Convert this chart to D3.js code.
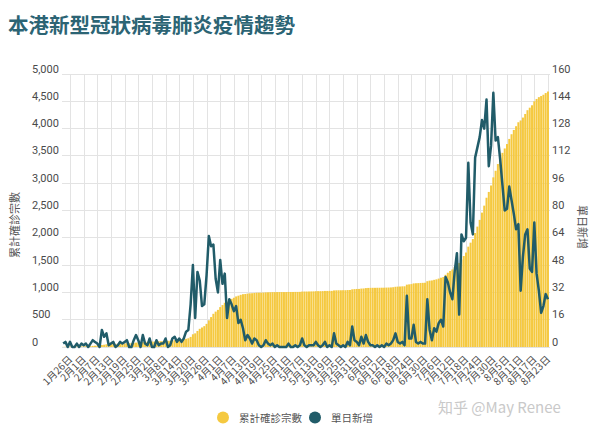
<!DOCTYPE html>
<html><head><meta charset="utf-8">
<script src="https://cdn.jsdelivr.net/npm/d3@7"></script>
<style>
html,body{margin:0;padding:0;background:#fff;}
text{font-family:Roboto,"Noto Sans CJK TC","Noto Sans",sans-serif;}
</style></head>
<body><svg id="chart" width="600" height="432"></svg>
<script>
// ---- data ----
const startDate = new Date(2020, 0, 23);
const endDate = new Date(2020, 7, 23);
const dailyNew = [2,3,0,3,0,0,2,0,2,1,2,0,2,4,3,2,0,10,6,8,1,2,3,0,1,3,2,3,4,0,0,4,7,4,0,7,2,1,5,0,0,4,1,2,2,5,0,1,5,6,3,5,3,5,9,10,25,48,17,44,39,24,25,42,65,59,60,40,32,51,37,43,17,28,25,21,24,14,16,11,4,7,5,2,5,4,1,0,1,4,2,1,2,0,1,0,0,0,0,2,0,0,1,0,1,5,1,0,1,1,1,3,1,0,1,3,0,1,0,8,2,1,0,1,0,3,1,12,4,3,1,6,2,7,3,1,1,0,1,0,1,0,2,1,2,4,8,3,2,3,1,30,5,5,13,3,2,3,2,2,28,10,4,11,9,14,16,12,41,38,32,28,44,55,19,66,62,64,108,73,66,111,117,123,133,128,145,106,118,149,121,123,110,95,80,81,94,86,78,69,72,33,53,66,69,46,44,73,43,33,20,24,31,28];
const cumulative = [2,5,5,8,8,8,10,10,12,13,15,15,17,21,24,26,26,36,42,50,51,53,56,56,57,60,62,65,69,69,69,73,80,84,84,91,93,94,99,99,99,103,104,106,108,113,113,114,119,125,128,133,136,141,150,160,185,233,250,294,333,357,382,424,489,548,608,648,680,731,768,811,828,856,881,902,926,940,956,967,971,978,983,985,990,994,995,995,996,1000,1002,1003,1005,1005,1006,1006,1006,1006,1006,1008,1008,1008,1009,1009,1010,1015,1016,1016,1017,1018,1019,1022,1023,1023,1024,1027,1027,1028,1028,1036,1038,1039,1039,1040,1040,1043,1044,1056,1060,1063,1064,1070,1072,1079,1082,1083,1084,1084,1085,1085,1086,1086,1088,1089,1091,1095,1103,1106,1108,1111,1112,1142,1147,1152,1165,1168,1170,1173,1175,1177,1205,1215,1219,1230,1239,1253,1269,1281,1322,1360,1392,1420,1464,1519,1538,1604,1666,1730,1838,1911,1977,2088,2205,2328,2461,2589,2734,2840,2958,3107,3228,3351,3461,3556,3636,3717,3811,3897,3975,4044,4116,4149,4202,4268,4337,4383,4427,4500,4543,4576,4596,4620,4651,4679];
const leftTicks = [0,500,1000,1500,2000,2500,3000,3500,4000,4500,5000];
const rightTicks = [0,16,32,48,64,80,96,112,128,144,160];
const tickLabels = ["1月26日","2月1日","2月7日","2月13日","2月19日","2月25日","3月2日","3月8日","3月14日","3月20日","3月26日","4月1日","4月7日","4月13日","4月19日","4月25日","5月1日","5月7日","5月13日","5月19日","5月25日","5月31日","6月6日","6月12日","6月18日","6月24日","6月30日","7月6日","7月12日","7月18日","7月24日","7月30日","8月5日","8月11日","8月17日","8月23日"];
const titleText = "本港新型冠狀病毒肺炎疫情趨勢";
const leftTitle = "累計確診宗數";
const rightTitle = "單日新增";
const legendItems = ["累計確診宗數","單日新增"];

// ---- build ----
const fmtDay = d => (d.getMonth()+1) + "月" + d.getDate() + "日";
const days = d3.timeDay.range(startDate, d3.timeDay.offset(endDate, 1)).map(fmtDay);
const rows = days.map((d,i) => ({day:d, cum:cumulative[i], daily:dailyNew[i]}));

const svg = d3.select("#chart");
const C_BAR = "#f5c940", C_LINE = "#215c69", C_GRID = "#e3e3e3", C_TXT = "#4a4a4a";
const plotTop = 74, plotBottom = 347;

const x = d3.scaleBand().domain(days).range([62.03, 549.1]).paddingInner(0.12).paddingOuter(0.06);
const yL = d3.scaleLinear().domain([0,5000]).range([plotBottom, plotTop]);
const yR = d3.scaleLinear().domain([0,160]).range([plotBottom, plotTop]);
const cx = d => x(d) + x.bandwidth()/2;

svg.append("rect").attr("width",600).attr("height",432).attr("fill","#fff");

// title
svg.append("text").attr("x",8).attr("y",33).attr("font-size",20.5).attr("font-weight",700)
  .attr("fill","#2c6474").style("font-family","'Noto Sans CJK TC',sans-serif").text(titleText);

// horizontal grid
svg.append("g").selectAll("line").data(leftTicks).join("line")
  .attr("x1",62).attr("x2",550).attr("y1",d=>yL(d)).attr("y2",d=>yL(d))
  .attr("stroke",C_GRID).attr("stroke-width",1).attr("shape-rendering","crispEdges");
// vertical grid
svg.append("g").selectAll("line").data(tickLabels).join("line")
  .attr("x1",d=>Math.round(cx(d))+0.5).attr("x2",d=>Math.round(cx(d))+0.5).attr("y1",plotTop).attr("y2",plotBottom)
  .attr("stroke",C_GRID).attr("stroke-width",1);

// bars
svg.append("g").selectAll("rect").data(rows).join("rect")
  .attr("x",d=>x(d.day)).attr("width",x.bandwidth())
  .attr("y",d=>yL(d.cum)).attr("height",d=>plotBottom - yL(d.cum))
  .attr("fill",C_BAR);

// line
const line = d3.line().x(d=>cx(d.day)).y(d=>yR(d.daily));
svg.append("path").datum(rows).attr("d",line).attr("fill","none")
  .attr("stroke",C_LINE).attr("stroke-width",2.5).attr("stroke-linejoin","round");

// left axis labels
const gl = svg.append("g").attr("transform","translate(32,0)")
  .call(d3.axisLeft(yL).tickValues(leftTicks).tickSize(0).tickFormat(d3.format(",")));
gl.select(".domain").remove();
gl.selectAll("text").attr("text-anchor","start").attr("x",0).attr("dy",null)
  .attr("y",-2).attr("font-size",11).attr("fill",C_TXT)
  .style("font-family","Roboto,sans-serif");

// right axis labels
const gr = svg.append("g").attr("transform","translate(552,0)")
  .call(d3.axisRight(yR).tickValues(rightTicks).tickSize(0));
gr.select(".domain").remove();
gr.selectAll("text").attr("x",0).attr("dy",null).attr("y",-2).attr("font-size",11).attr("fill",C_TXT)
  .style("font-family","Roboto,sans-serif");

// x axis labels
const gx = svg.append("g").attr("transform","translate(0,"+plotBottom+")")
  .call(d3.axisBottom(x).tickValues(tickLabels).tickSize(0));
gx.select(".domain").remove();
gx.selectAll("text").attr("text-anchor","end").attr("dy",null).attr("y",0)
  .attr("transform","translate(3,13) rotate(-45)").attr("font-size",10).attr("fill",C_TXT)
  .style("font-family","'Noto Sans CJK TC',sans-serif");

// axis titles
svg.append("text").attr("transform","translate(19,225) rotate(-90)").attr("text-anchor","middle")
  .attr("font-size",11).attr("fill","#555").style("font-family","'Noto Sans CJK TC',sans-serif").text(leftTitle);
svg.append("text").attr("transform","translate(578,227) rotate(90)").attr("text-anchor","middle")
  .attr("font-size",11).attr("fill","#555").style("font-family","'Noto Sans CJK TC',sans-serif").text(rightTitle);

// legend
const lg = svg.append("g");
const legendX = [223, 315], legendColors = [C_BAR, C_LINE];
legendItems.forEach((t,i)=>{
  lg.append("circle").attr("cx",legendX[i]).attr("cy",417.5).attr("r",6).attr("fill",legendColors[i]);
  lg.append("text").attr("x",legendX[i]+16).attr("y",421.5).attr("font-size",10.5).attr("fill","#555")
    .style("font-family","'Noto Sans CJK TC',sans-serif").text(t);
});

// watermark
svg.append("text").attr("x",438).attr("y",413).attr("font-size",15).attr("fill","#c9c9c9")
  .style("font-family","'Noto Sans CJK SC',sans-serif").text("知乎 @May Renee");
</script></body></html>
